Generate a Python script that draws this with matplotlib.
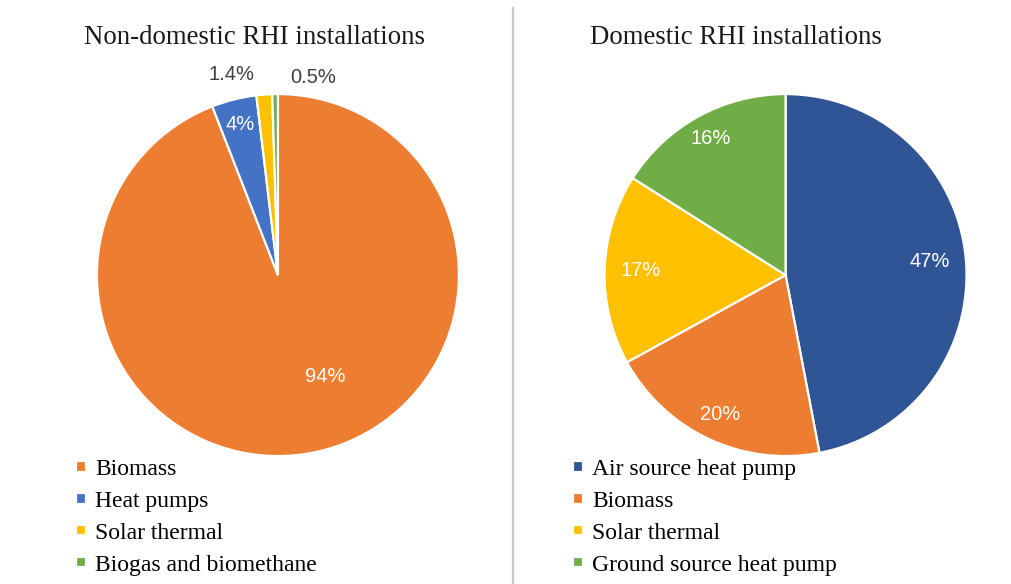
import numpy as np
import matplotlib
matplotlib.use("Agg")
import matplotlib.pyplot as plt

# datos de los dos graficos de torta
nd_labels = ["Biomass", "Heat pumps", "Solar thermal", "Biogas and biomethane"]
nd_values = [94, 4, 1.4, 0.5]
nd_text = ["94%", "4%", "1.4%", "0.5%"]

dom_labels = ["Air source heat pump", "Biomass", "Solar thermal", "Ground source heat pump"]
dom_values = [47, 20, 17, 16]
dom_text = ["47%", "20%", "17%", "16%"]

orange = "#ED7D31"
blue = "#4472C4"
dark_blue = "#2F5597"
yellow = "#FFC000"
green = "#70AD47"

serif = "Liberation Serif"
sans = "Liberation Sans"

fig = plt.figure(figsize=(10.11, 5.84), dpi=100)
fig.patch.set_facecolor("white")


def torta(rect, values, colors, texts, label_pos):
    ax = fig.add_axes(rect)
    wedges, _ = ax.pie(values, colors=colors, startangle=90, counterclock=False,
                       wedgeprops=dict(edgecolor="white", linewidth=1.6))
    ax.set_xlim(-1, 1)
    ax.set_ylim(-1, 1)
    ax.set_aspect("equal")
    ## label_pos: (radio, angulo o None, color) para cada etiqueta
    for w, t, (r, ang, col) in zip(wedges, texts, label_pos):
        if ang is None:
            ang = (w.theta1 + w.theta2) / 2
        a = np.deg2rad(ang)
        ax.text(r * np.cos(a), r * np.sin(a), t, ha="center", va="center",
                color=col, fontsize=14.5, family=sans)
    return ax, wedges


ax1, w1 = torta([0.0959, 0.219, 0.358, 0.620], nd_values,
                [orange, blue, yellow, green], nd_text,
                [(0.62, -65, "white"), (0.86, None, "white"),
                 (1.14, 103, "#404040"), (1.11, 80, "#404040")])
ax2, w2 = torta([0.598, 0.219, 0.358, 0.620], dom_values,
                [dark_blue, orange, yellow, green], dom_text,
                [(0.80, None, "white"), (0.85, None, "white"),
                 (0.80, None, "white"), (0.86, None, "white")])

fig.text(254 / 1011, 1 - 37 / 584, "Non-domestic RHI installations", ha="center",
         va="center", fontsize=19.3, family=serif, color="#1a1a1a")
fig.text(736 / 1011, 1 - 37 / 584, "Domestic RHI installations", ha="center",
         va="center", fontsize=19.3, family=serif, color="#1a1a1a")

for wedges, labels, x in [(w1, nd_labels, 76 / 1011), (w2, dom_labels, 573 / 1011)]:
    fig.legend(wedges, labels, loc="upper left", bbox_to_anchor=(x, 1 - 459 / 584),
               frameon=False, prop=dict(family=serif, size=17), handlelength=0.42,
               handleheight=0.3, handletextpad=0.4, labelspacing=0.46,
               borderaxespad=0, borderpad=0)

# linea divisoria gris
fig.add_artist(plt.Line2D([512.5 / 1011, 512.5 / 1011], [0, 1 - 8 / 584],
                          color="#c8c8c8", linewidth=1.6))

fig.savefig("out.png", dpi=100, facecolor="white")
